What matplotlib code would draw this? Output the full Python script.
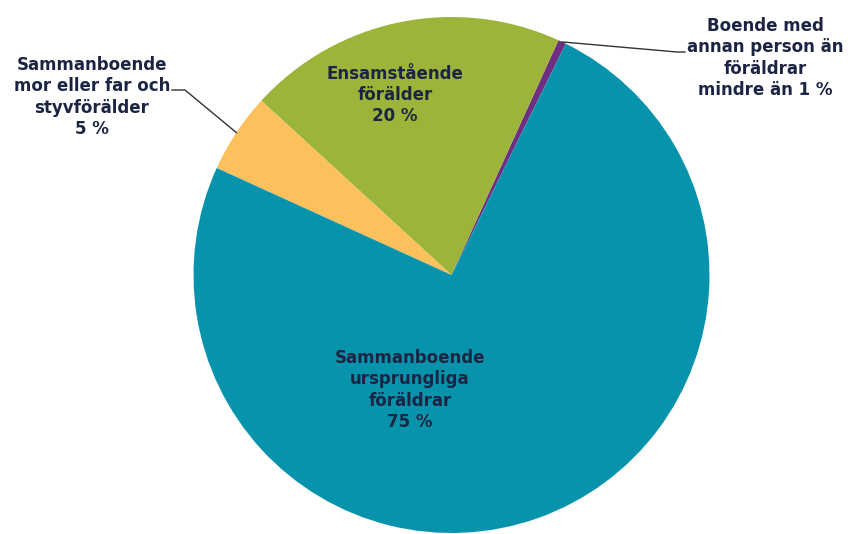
import numpy as np
import matplotlib.pyplot as plt

# slices, counterclockwise starting from the thin purple one
labels = ["Boende med\nannan person än\nföräldrar\nmindre än 1 %",
          "Ensamstående\nförälder\n20 %",
          "Sammanboende\nmor eller far och\nstyvförälder\n5 %",
          "Sammanboende\nursprungliga\nföräldrar\n75 %"]
values = [0.5, 20, 5, 74.5]
colors = ["#6E2F82", "#9DB43B", "#FCC15C", "#0893AD"]

W, H = 848, 534
fig = plt.figure(figsize=(W / 100, H / 100), dpi=100)
ax = fig.add_axes([0, 0, 1, 1])

cx, cy, r = 451.5, H - 275, 258
start = 63.7
wedges, _ = ax.pie(values, colors=colors, startangle=start, counterclock=True,
                   center=(cx, cy), radius=r,
                   wedgeprops=dict(linewidth=0))
ax.set_xlim(0, W)
ax.set_ylim(0, H)
ax.set_aspect("equal")
ax.axis("off")

txt = dict(fontsize=12, fontweight="bold", color="#1C2443",
           ha="center", va="center", linespacing=1.22)

# label positions in pixels (y from top)
pos = [(765, 58), (395, 95), (92, 97), (410, 390)]
for lab, (x, y) in zip(labels, pos):
    ax.text(x, H - y, lab, **txt)

def edge_point(i):
    w = wedges[i]
    a = np.deg2rad((w.theta1 + w.theta2) / 2)
    return cx + r * np.cos(a), cy + r * np.sin(a)

# leader for the purple slice
px, py = edge_point(0)
ax.plot([px, 677, 685], [py, H - 52, H - 52], color="#333333", lw=1)

# leader for the yellow slice
yx, yy = edge_point(2)
ax.plot([172, 185, yx], [H - 90, H - 90, yy], color="#333333", lw=1)

fig.savefig("out.png", dpi=100)
